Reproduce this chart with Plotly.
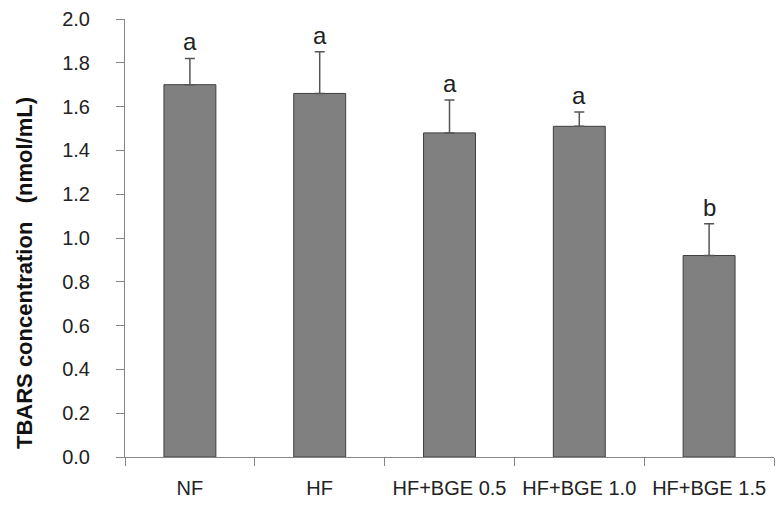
import plotly.graph_objects as go

categories = ["NF", "HF", "HF+BGE 0.5", "HF+BGE 1.0", "HF+BGE 1.5"]
means = [1.70, 1.66, 1.48, 1.51, 0.92]
errors = [0.12, 0.19, 0.15, 0.065, 0.145]
letters = ["a", "a", "a", "a", "b"]
y_ticks = [0.0, 0.2, 0.4, 0.6, 0.8, 1.0, 1.2, 1.4, 1.6, 1.8, 2.0]

L, R, T, B = 125, 4, 19, 49
W, H = 778, 506
plot_w = W - L - R
plot_h = H - T - B

fig = go.Figure()
fig.add_trace(go.Bar(
    x=categories, y=means,
    marker=dict(color="#808080", line=dict(color="#3f3f3f", width=1)),
    error_y=dict(type="data", array=errors, symmetric=False, arrayminus=[0]*len(errors),
                 color="#555555", thickness=1.5, width=5),
    showlegend=False,
))

for c, m, e, l in zip(categories, means, errors, letters):
    fig.add_annotation(x=c, y=m + e, text=l, showarrow=False, yanchor="bottom",
                       yshift=1, font=dict(family="Liberation Sans", size=24, color="#222222"))

# y-axis title (placed lower than centre, as in the reference)
fig.add_annotation(
    xref="paper", yref="paper",
    x=(24 - L) / plot_w, y=(H - B - 273) / plot_h,
    text="<b>TBARS concentration   (nmol/mL)</b>", textangle=-90,
    showarrow=False, xanchor="center", yanchor="middle",
    font=dict(size=22, family="Liberation Sans", color="#111111"),
)

fig.update_layout(
    width=W, height=H,
    margin=dict(l=L, r=R, t=T, b=B),
    plot_bgcolor="white", paper_bgcolor="white",
    bargap=0.6,
    font=dict(family="Liberation Sans", color="#222222"),
    xaxis=dict(
        automargin=False,
        showline=True, linecolor="#868686", linewidth=1,
        ticks="outside", tickson="boundaries", ticklen=8, tickcolor="#868686",
        tickfont=dict(size=20, family="Liberation Sans", color="#222222"),
        ticklabelstandoff=13,
        showgrid=False,
    ),
    yaxis=dict(
        automargin=False,
        range=[0, 2.0], tickvals=y_ticks, tickformat=".1f",
        showline=True, linecolor="#868686", linewidth=1,
        ticks="outside", ticklen=8, tickcolor="#868686",
        tickfont=dict(size=20, family="Liberation Sans", color="#222222"),
        ticklabelstandoff=22,
        showgrid=False, zeroline=False,
    ),
)

fig.write_html("out.html", config={"displayModeBar": False},
               post_script="document.body.style.margin='0';")
